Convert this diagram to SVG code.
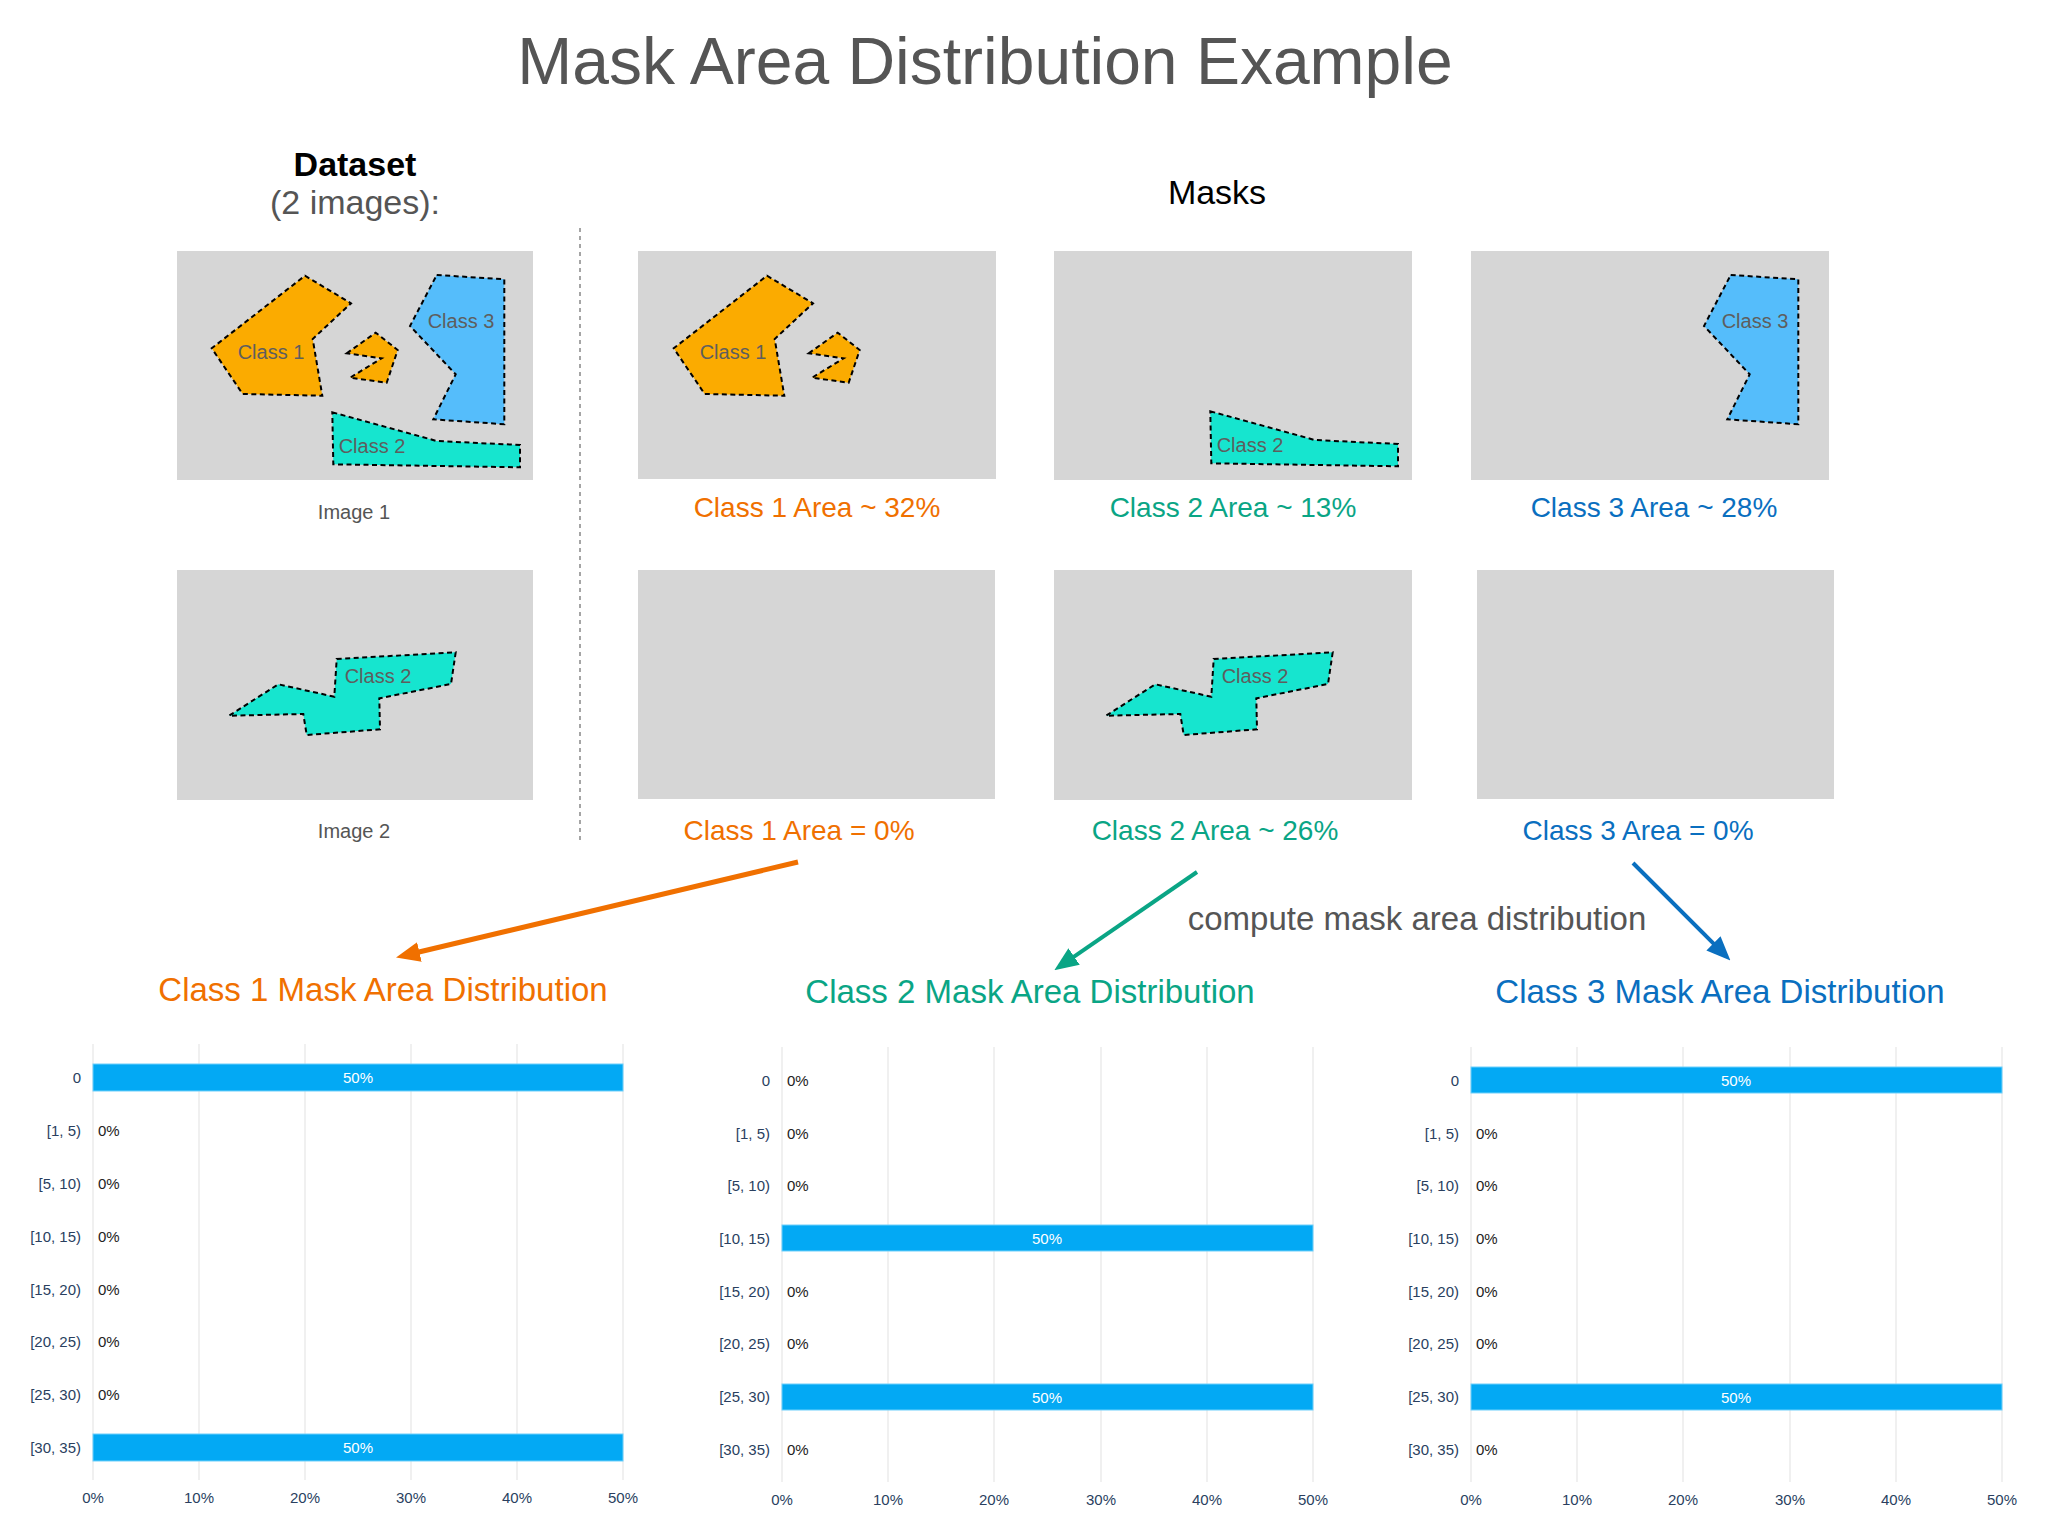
<svg xmlns="http://www.w3.org/2000/svg" width="2048" height="1530" viewBox="0 0 2048 1530">
<style>
text{font-family:"Liberation Sans",Arial,Helvetica,sans-serif}
.bg{fill:#d6d6d6}
.poly{stroke:#000;stroke-width:2;stroke-dasharray:5 3.5;stroke-linejoin:miter}
.c1{fill:#fbab00}.c2{fill:#16e5cf}.c3{fill:#55bdfb}
.plab{font-size:20px;fill:#5e5e5e;text-anchor:middle}
.imlab{font-size:20px;fill:#555;text-anchor:middle}
.alab{font-size:28px;text-anchor:middle}
.or{fill:#f07000}.gr{fill:#0aa585}.bl{fill:#0a6fbf}
.dlab{font-size:33px;text-anchor:middle}
.grid{stroke:#ebebeb;stroke-width:1.5}
.bar{fill:#03a9f4;stroke:#6fd0fb;stroke-width:1}
.yl{font-size:15px;fill:#2a3f5f;text-anchor:end}
.xl{font-size:15px;fill:#2a3f5f;text-anchor:middle}
.vl{font-size:15px;fill:#222}
.bv{font-size:15px;fill:#fff;text-anchor:middle}
</style>
<defs>
<marker id="ah-o" markerWidth="24" markerHeight="20" refX="8" refY="10" orient="auto" markerUnits="userSpaceOnUse"><path d="M0,0 L24,10 L0,20 z" fill="#f07000"/></marker>
<marker id="ah-g" markerWidth="24" markerHeight="20" refX="8" refY="10" orient="auto" markerUnits="userSpaceOnUse"><path d="M0,0 L24,10 L0,20 z" fill="#0aa585"/></marker>
<marker id="ah-b" markerWidth="24" markerHeight="20" refX="8" refY="10" orient="auto" markerUnits="userSpaceOnUse"><path d="M0,0 L24,10 L0,20 z" fill="#0a6fbf"/></marker>
<g id="shape-c1">
<polygon class="poly c1" points="305,275.7 351,303.3 312.7,339 322.3,395.7 242.7,394 211.7,348.3"/>
<polygon class="poly c1" points="346.7,353.3 375.7,332.7 397.7,350 386.7,382.7 350,377.7 381.7,358.3"/>
<text class="plab" x="271" y="359">Class 1</text>
</g>
<g id="shape-c2a">
<polygon class="poly c2" points="332.3,412.3 436.7,441 520,445 520,467.3 333.3,464.3"/>
<text class="plab" x="372" y="453">Class 2</text>
</g>
<g id="shape-c3">
<polygon class="poly c3" points="436.7,275 504.3,279.3 504.3,424.3 433.3,419.3 455.7,374.3 410,326"/>
<text class="plab" x="461" y="328">Class 3</text>
</g>
<g id="shape-c2b">
<polygon class="poly c2" points="336.7,659 455.7,652.3 451,684 379.3,698.3 380,729.3 306.7,735 303.3,714 229,715.7 278.3,684.3 334.3,696.7"/>
<text class="plab" x="378" y="683">Class 2</text>
</g>
</defs>
<rect width="2048" height="1530" fill="#fff"/>

<text x="985" y="84" font-size="66" fill="#555" text-anchor="middle">Mask Area Distribution Example</text>
<text x="355" y="176" font-size="34" font-weight="bold" fill="#000" text-anchor="middle">Dataset</text>
<text x="355" y="214" font-size="34" fill="#555" text-anchor="middle">(2 images):</text>
<text x="1217" y="204" font-size="34" fill="#000" text-anchor="middle">Masks</text>
<line x1="580" y1="228" x2="580" y2="842" stroke="#888" stroke-width="1.5" stroke-dasharray="4 4"/>

<g id="image1">
<rect class="bg" x="177" y="251" width="356" height="229"/>
<use href="#shape-c1"/><use href="#shape-c3"/><use href="#shape-c2a"/>
<text class="imlab" x="354" y="519">Image 1</text>
</g>
<g id="image2">
<rect class="bg" x="177" y="570" width="356" height="230"/>
<use href="#shape-c2b"/>
<text class="imlab" x="354" y="838">Image 2</text>
</g>
<g id="mask1-img1">
<rect class="bg" x="638" y="251" width="358" height="228"/>
<use href="#shape-c1" transform="translate(462,0)"/>
<text class="alab or" x="817" y="517">Class 1 Area ~ 32%</text>
</g>
<g id="mask2-img1">
<rect class="bg" x="1054" y="251" width="358" height="229"/>
<use href="#shape-c2a" transform="translate(878,-1)"/>
<text class="alab gr" x="1233" y="517">Class 2 Area ~ 13%</text>
</g>
<g id="mask3-img1">
<rect class="bg" x="1471" y="251" width="358" height="229"/>
<use href="#shape-c3" transform="translate(1294,0)"/>
<text class="alab bl" x="1654" y="517">Class 3 Area ~ 28%</text>
</g>
<g id="mask1-img2">
<rect class="bg" x="638" y="570" width="357" height="229"/>
<text class="alab or" x="799" y="840">Class 1 Area = 0%</text>
</g>
<g id="mask2-img2">
<rect class="bg" x="1054" y="570" width="358" height="230"/>
<use href="#shape-c2b" transform="translate(877,0)"/>
<text class="alab gr" x="1215" y="840">Class 2 Area ~ 26%</text>
</g>
<g id="mask3-img2">
<rect class="bg" x="1477" y="570" width="357" height="229"/>
<text class="alab bl" x="1638" y="840">Class 3 Area = 0%</text>
</g>

<g id="connectors">
<line x1="798" y1="862" x2="411.6" y2="953.8" stroke="#f07000" stroke-width="5" marker-end="url(#ah-o)"/>
<line x1="1197" y1="872" x2="1067.5" y2="961.1" stroke="#0aa585" stroke-width="4" marker-end="url(#ah-g)"/>
<line x1="1633" y1="863" x2="1719.1" y2="949.1" stroke="#0a6fbf" stroke-width="4" marker-end="url(#ah-b)"/>
</g>
<text x="1417" y="930" font-size="33" fill="#555" text-anchor="middle">compute mask area distribution</text>

<text class="dlab or" x="383" y="1001">Class 1 Mask Area Distribution</text>
<text class="dlab gr" x="1030" y="1003">Class 2 Mask Area Distribution</text>
<text class="dlab bl" x="1720" y="1003">Class 3 Mask Area Distribution</text>

<g id="chart1">
<g class="grid">
<line x1="93" y1="1044" x2="93" y2="1480"/><line x1="199" y1="1044" x2="199" y2="1480"/><line x1="305" y1="1044" x2="305" y2="1480"/><line x1="411" y1="1044" x2="411" y2="1480"/><line x1="517" y1="1044" x2="517" y2="1480"/><line x1="623" y1="1044" x2="623" y2="1480"/>
</g>
<rect class="bar" x="93" y="1064" width="530" height="27"/>
<rect class="bar" x="93" y="1434" width="530" height="27"/>
<text class="bv" x="358" y="1082.5">50%</text>
<text class="bv" x="358" y="1452.5">50%</text>
<text class="yl" x="81" y="1082.5">0</text>
<text class="yl" x="81" y="1135.5">[1, 5)</text>
<text class="yl" x="81" y="1188.5">[5, 10)</text>
<text class="yl" x="81" y="1241.5">[10, 15)</text>
<text class="yl" x="81" y="1294.5">[15, 20)</text>
<text class="yl" x="81" y="1346.5">[20, 25)</text>
<text class="yl" x="81" y="1399.5">[25, 30)</text>
<text class="yl" x="81" y="1452.5">[30, 35)</text>
<text class="vl" x="98" y="1135.5">0%</text>
<text class="vl" x="98" y="1188.5">0%</text>
<text class="vl" x="98" y="1241.5">0%</text>
<text class="vl" x="98" y="1294.5">0%</text>
<text class="vl" x="98" y="1346.5">0%</text>
<text class="vl" x="98" y="1399.5">0%</text>
<text class="xl" x="93" y="1503">0%</text><text class="xl" x="199" y="1503">10%</text><text class="xl" x="305" y="1503">20%</text><text class="xl" x="411" y="1503">30%</text><text class="xl" x="517" y="1503">40%</text><text class="xl" x="623" y="1503">50%</text>
</g>

<g id="chart2">
<g class="grid">
<line x1="782" y1="1047" x2="782" y2="1482"/><line x1="888" y1="1047" x2="888" y2="1482"/><line x1="994" y1="1047" x2="994" y2="1482"/><line x1="1101" y1="1047" x2="1101" y2="1482"/><line x1="1207" y1="1047" x2="1207" y2="1482"/><line x1="1313" y1="1047" x2="1313" y2="1482"/>
</g>
<rect class="bar" x="782" y="1225" width="531" height="26"/>
<rect class="bar" x="782" y="1384" width="531" height="26"/>
<text class="bv" x="1047" y="1243.5">50%</text>
<text class="bv" x="1047" y="1402.5">50%</text>
<text class="yl" x="770" y="1085.5">0</text>
<text class="yl" x="770" y="1138.5">[1, 5)</text>
<text class="yl" x="770" y="1190.5">[5, 10)</text>
<text class="yl" x="770" y="1243.5">[10, 15)</text>
<text class="yl" x="770" y="1296.5">[15, 20)</text>
<text class="yl" x="770" y="1348.5">[20, 25)</text>
<text class="yl" x="770" y="1401.5">[25, 30)</text>
<text class="yl" x="770" y="1454.5">[30, 35)</text>
<text class="vl" x="787" y="1085.5">0%</text>
<text class="vl" x="787" y="1138.5">0%</text>
<text class="vl" x="787" y="1190.5">0%</text>
<text class="vl" x="787" y="1296.5">0%</text>
<text class="vl" x="787" y="1348.5">0%</text>
<text class="vl" x="787" y="1454.5">0%</text>
<text class="xl" x="782" y="1505">0%</text><text class="xl" x="888" y="1505">10%</text><text class="xl" x="994" y="1505">20%</text><text class="xl" x="1101" y="1505">30%</text><text class="xl" x="1207" y="1505">40%</text><text class="xl" x="1313" y="1505">50%</text>
</g>

<g id="chart3">
<g class="grid">
<line x1="1471" y1="1047" x2="1471" y2="1482"/><line x1="1577" y1="1047" x2="1577" y2="1482"/><line x1="1683" y1="1047" x2="1683" y2="1482"/><line x1="1790" y1="1047" x2="1790" y2="1482"/><line x1="1896" y1="1047" x2="1896" y2="1482"/><line x1="2002" y1="1047" x2="2002" y2="1482"/>
</g>
<rect class="bar" x="1471" y="1067" width="531" height="26"/>
<rect class="bar" x="1471" y="1384" width="531" height="26"/>
<text class="bv" x="1736" y="1085.5">50%</text>
<text class="bv" x="1736" y="1402.5">50%</text>
<text class="yl" x="1459" y="1085.5">0</text>
<text class="yl" x="1459" y="1138.5">[1, 5)</text>
<text class="yl" x="1459" y="1190.5">[5, 10)</text>
<text class="yl" x="1459" y="1243.5">[10, 15)</text>
<text class="yl" x="1459" y="1296.5">[15, 20)</text>
<text class="yl" x="1459" y="1348.5">[20, 25)</text>
<text class="yl" x="1459" y="1401.5">[25, 30)</text>
<text class="yl" x="1459" y="1454.5">[30, 35)</text>
<text class="vl" x="1476" y="1138.5">0%</text>
<text class="vl" x="1476" y="1190.5">0%</text>
<text class="vl" x="1476" y="1243.5">0%</text>
<text class="vl" x="1476" y="1296.5">0%</text>
<text class="vl" x="1476" y="1348.5">0%</text>
<text class="vl" x="1476" y="1454.5">0%</text>
<text class="xl" x="1471" y="1505">0%</text><text class="xl" x="1577" y="1505">10%</text><text class="xl" x="1683" y="1505">20%</text><text class="xl" x="1790" y="1505">30%</text><text class="xl" x="1896" y="1505">40%</text><text class="xl" x="2002" y="1505">50%</text>
</g>
</svg>
